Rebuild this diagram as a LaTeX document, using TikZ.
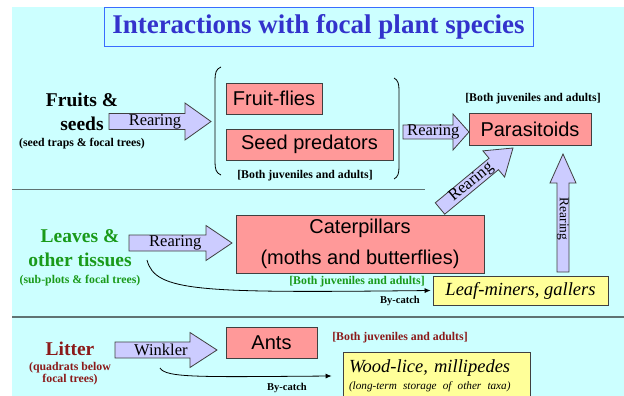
\documentclass[tikz,border=0pt]{standalone}
\usepackage{fontspec}
\setmainfont{Liberation Serif}
\setsansfont{Liberation Sans}
\usetikzlibrary{arrows.meta,calc}

\definecolor{skyback}{HTML}{CCFFFF}
\definecolor{titleblue}{HTML}{3333CC}
\definecolor{frameblue}{HTML}{3A6CFF}
\definecolor{taxonpink}{HTML}{FF9999}
\definecolor{extrayellow}{HTML}{FFFF99}
\definecolor{arrowlilac}{HTML}{CCCCFF}
\definecolor{leafgreen}{HTML}{1A9A1A}
\definecolor{litterred}{HTML}{8B1A1A}
\definecolor{rulegray}{HTML}{5F7373}

% fat arrow: tail, tip, half shaft, half head, head length
\newcommand{\blockarrow}[5]{%
	\coordinate (ba-h) at ($(#2)!#5!(#1)$);
	\draw[blockarrow] ($(#1)!#3!90:(#2)$) -- ($(ba-h)!#3!90:(#2)$)
		-- ($(ba-h)!#4!90:(#2)$) -- (#2) -- ($(ba-h)!#4!-90:(#2)$)
		-- ($(ba-h)!#3!-90:(#2)$) -- ($(#1)!#3!-90:(#2)$) -- cycle;
}

\begin{document}
\begin{tikzpicture}[
		x=1pt, y=-1pt,
		taxon/.style={
			draw=black!75,
			line width=0.8pt,
			fill=taxonpink,
			inner sep=0pt,
			font=\sffamily\fontsize{20}{23}\selectfont
		},
		extra/.style={
			draw=black!75,
			line width=0.8pt,
			fill=extrayellow,
			inner sep=0pt,
			font=\itshape\fontsize{18.5}{21}\selectfont
		},
		source/.style={align=center, font=\bfseries\fontsize{19.5}{24}\selectfont},
		method/.style={align=center, font=\bfseries\fontsize{11.8}{12}\selectfont},
		stage/.style={font=\bfseries\fontsize{11.8}{13}\selectfont},
		catchlabel/.style={font=\bfseries\fontsize{10.5}{12}\selectfont},
		blockarrow/.style={draw=black!75, line width=0.8pt, fill=arrowlilac, line join=miter},
		arrowtext/.style={inner sep=0pt, font=\fontsize{16.5}{18}\selectfont},
		bycatch/.style={draw, line width=0.8pt, -{Latex[length=6pt,width=5pt]}},
		rule/.style={draw=rulegray, line width=1.5pt}
		]
		
		\clip (0,0) rectangle (624,396);
		\fill[skyback] (12,7) rectangle (624,396);
		
		% Title
		\node[draw=frameblue, line width=0.8pt, minimum width=429pt, minimum height=39pt,
			text=titleblue, font=\bfseries\fontsize{27}{30}\selectfont] (title) at (318.5,26.5)
		{Interactions with focal plant species};
		
		% Section rules
		\draw[rule] (12,189.5) -- (425,189.5);
		\draw[rule] (12,317) -- (624,317);
		
		% Sources
		\node[source] (fruits) at (82,111.4) {Fruits \&\\seeds};
		\node[method] (fruitsm) at (82,144) {(seed traps \& focal trees)};
		\node[source, text=leafgreen] (leaves) at (80,248.4) {Leaves \&\\other tissues};
		\node[method, text=leafgreen] (leavesm) at (80,281) {(sub-plots \& focal trees)};
		\node[source, text=litterred] (litter) at (70,348.5) {Litter};
		\node[method, text=litterred] (litterm) at (70,373.5) {(quadrats below\\focal trees)};
		
		% Reared taxa
		\node[taxon, minimum width=96pt, minimum height=31pt] (flies) at (274,98.5) {Fruit-flies};
		\node[taxon, minimum width=167pt, minimum height=31pt] (seedpred) at (309.5,144.5) {Seed predators};
		\node[taxon, minimum width=122pt, minimum height=32pt] (parasit) at (530,129) {Parasitoids};
		\node[taxon, minimum width=248pt, minimum height=58pt, align=center,
			font=\sffamily\fontsize{20}{31}\selectfont] (cater) at (360,244)
		{Caterpillars\\(moths and butterflies)};
		\node[taxon, minimum width=91pt, minimum height=31pt] (ants) at (271.5,342.5) {Ants};
		
		% By-catch taxa
		\node[extra, minimum width=175pt, minimum height=29pt] (leafmin) at (520.5,290.5) {Leaf-miners, gallers};
		\node[extra, minimum width=187pt, minimum height=48pt, align=left, text width=175pt] (woodlice) at (436.5,376)
		{Wood-lice, millipedes\\[-4pt]\fontsize{11.2}{13}\selectfont (long-term storage of other taxa)};
		
		% Stage notes
		\node[stage] (stage1) at (305,176) {[Both juveniles and adults]};
		\node[stage] (stage2) at (533,99) {[Both juveniles and adults]};
		\node[stage, text=leafgreen] (stage3) at (357,282) {[Both juveniles and adults]};
		\node[stage, text=litterred] (stage4) at (400,338) {[Both juveniles and adults]};
		\node[catchlabel] (catch1) at (400,301) {By-catch};
		\node[catchlabel] (catch2) at (287,388) {By-catch};
		
		% Brackets round the fruit taxa
		\draw[line width=0.8pt] (221,67) .. controls (216,69) and (215,73) .. (215,80)
			-- (215,162) .. controls (215,169) and (216,173) .. (221,175);
		\draw[line width=0.8pt] (394,78) .. controls (398,80) and (399,84) .. (399,90)
			-- (399,167) .. controls (399,173) and (398,177) .. (394,179);
		
		% Fat arrows
		\coordinate (fr-a) at (109,121.5); \coordinate (fr-b) at (211,121.5);
		\coordinate (sp-a) at (403,132);   \coordinate (sp-b) at (469,132);
		\coordinate (lv-a) at (129,243);   \coordinate (lv-b) at (232,243);
		\coordinate (lt-a) at (115,350);   \coordinate (lt-b) at (217,350);
		\coordinate (cp-a) at (440,208.5); \coordinate (cp-b) at (513,148);
		\coordinate (lm-a) at (563,272);   \coordinate (lm-b) at (563,154);
		
		\blockarrow{fr-a}{fr-b}{8pt}{18.5pt}{26pt}
		\blockarrow{sp-a}{sp-b}{7pt}{18pt}{16pt}
		\blockarrow{lv-a}{lv-b}{8pt}{17.5pt}{26pt}
		\blockarrow{lt-a}{lt-b}{8pt}{17.5pt}{27pt}
		\blockarrow{cp-a}{cp-b}{7.4pt}{17pt}{25pt}
		\blockarrow{lm-a}{lm-b}{6pt}{13pt}{29pt}
		
		\node[arrowtext] (fr-lab) at ($(fr-a)!0.45!(fr-b)$) {Rearing};
		\node[arrowtext] (sp-lab) at ($(sp-a)!0.46!(sp-b)$) {Rearing};
		\node[arrowtext] (lv-lab) at ($(lv-a)!0.45!(lv-b)$) {Rearing};
		\node[arrowtext] (lt-lab) at ($(lt-a)!0.45!(lt-b)$) {Winkler};
		\node[arrowtext, rotate=39.6] (cp-lab) at ($(cp-a)!0.43!(cp-b)$) {Rearing};
		\node[arrowtext, rotate=-90, font=\fontsize{13.5}{15}\selectfont] (lm-lab) at ($(lm-a)!0.45!(lm-b)$) {Rearing};
		
		% By-catch lines
		\coordinate (bc-lv) at (147,260);
		\coordinate (bc-lt) at (160,368);
		\draw[bycatch] (bc-lv) .. controls (155,292) and (200,293) .. ([xshift=-2pt]leafmin.west);
		\draw[bycatch] (bc-lt) .. controls (166,378) and (200,377) .. ([xshift=-11pt]woodlice.west);
		
	\end{tikzpicture}
\end{document}
